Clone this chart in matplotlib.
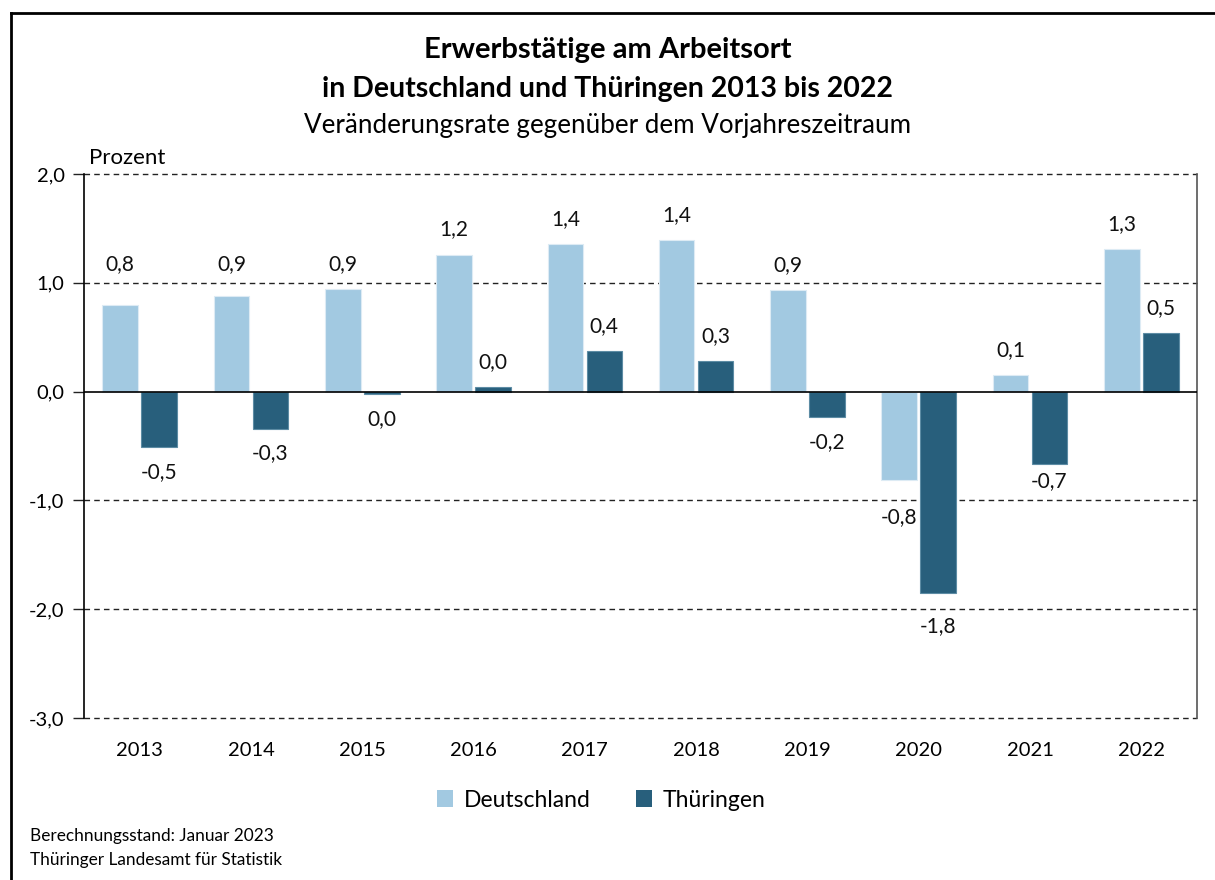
import matplotlib
matplotlib.use("Agg")
import matplotlib.pyplot as plt
import numpy as np
from matplotlib.patches import Patch
from matplotlib.lines import Line2D

plt.rcParams['font.family'] = ['Lato', 'DejaVu Sans']

years = ["2013", "2014", "2015", "2016", "2017", "2018", "2019", "2020", "2021", "2022"]
deutschland = [0.80, 0.88, 0.94, 1.26, 1.36, 1.39, 0.93, -0.81, 0.15, 1.31]
thueringen = [-0.51, -0.34, -0.02, 0.04, 0.37, 0.28, -0.23, -1.85, -0.67, 0.54]
labels_de = ["0,8", "0,9", "0,9", "1,2", "1,4", "1,4", "0,9", "-0,8", "0,1", "1,3"]
labels_th = ["-0,5", "-0,3", "0,0", "0,0", "0,4", "0,3", "-0,2", "-1,8", "-0,7", "0,5"]
yticks = [2.0, 1.0, 0.0, -1.0, -2.0, -3.0]

c_de = "#A2C9E1"
c_th = "#285F7C"

fig = plt.figure(figsize=(12.15, 8.8), dpi=100)
ax = fig.add_axes([84/1215, 1-718/880, (1197-84)/1215, (718-174)/880])

x = np.arange(len(years))
w = 0.32
off = 0.175
b1 = ax.bar(x - off, deutschland, w, color=c_de, edgecolor="#DDEBF4", linewidth=0.8, zorder=3)
b2 = ax.bar(x + off, thueringen, w, color=c_th, edgecolor="#5D8CA4", linewidth=0.8, zorder=3)

ax.set_xlim(-0.5, len(years) - 0.5)
ax.set_ylim(-3.0, 2.0)

# label placement: fixed distance from bar end, nudged away from gridlines
upp = 5.0 / (718 - 174)   # data units per pixel
gap = 25 * upp
grids = [v for v in yticks if v != 0]
for bars, labs in ((b1, labels_de), (b2, labels_th)):
    for r, lab in zip(bars, labs):
        h = r.get_height()
        cx = r.get_x() + r.get_width()/2
        y = h + gap if h >= 0 else h - gap
        for g in grids:
            if abs(y - g) < 13 * upp:
                y = g + 19 * upp if y >= g else g - 17 * upp
        ax.text(cx, y, lab, ha="center", va="center", fontsize=15, color="#111111")

ax.set_yticks(yticks)
ax.set_yticklabels([f"{v:.1f}".replace(".", ",") for v in yticks], fontsize=14.5)
ax.set_xticks(x)
ax.set_xticklabels(years, fontsize=14.5)
ax.tick_params(axis="x", length=0, pad=17)
ax.tick_params(axis="y", length=8, width=1, direction="out", pad=6, color="#222222")

for v in grids:
    ax.axhline(v, color="#222222", linestyle=(0, (4, 3)), linewidth=1, zorder=1, clip_on=False)
ax.axhline(0, color="black", linewidth=1.2, zorder=4)

ax.spines["top"].set_visible(False)
ax.spines["bottom"].set_visible(False)
ax.spines["left"].set_color("black")
ax.spines["left"].set_linewidth(1.2)
ax.spines["right"].set_color("#555555")
ax.spines["right"].set_linewidth(1.2)

fig.text(0.5, 1-50/880, "Erwerbstätige am Arbeitsort", ha="center", va="center",
         fontsize=21, fontweight="bold")
fig.text(0.5, 1-89/880, "in Deutschland und Thüringen 2013 bis 2022", ha="center", va="center",
         fontsize=20.5, fontweight="bold")
fig.text(0.5, 1-125/880, "Veränderungsrate gegenüber dem Vorjahreszeitraum", ha="center", va="center",
         fontsize=18.7)
fig.text(89/1215, 1-158/880, "Prozent", ha="left", va="center", fontsize=16)

handles = [Patch(facecolor=c_de, edgecolor="none"), Patch(facecolor=c_th, edgecolor="none")]
fig.legend(handles, ["Deutschland", "Thüringen"], loc="center", bbox_to_anchor=(0.495, 1-800/880),
           ncol=2, frameon=False, fontsize=16.5, handlelength=0.7, handleheight=0.7,
           columnspacing=2.0, handletextpad=0.45)

fig.text(30/1215, 1-836/880, "Berechnungsstand: Januar 2023", ha="left", va="center", fontsize=12.4)
fig.text(30/1215, 1-860/880, "Thüringer Landesamt für Statistik", ha="left", va="center", fontsize=12.4)

# frame
fig.add_artist(Line2D([11/1215, 11/1215], [0, 1-13/880], transform=fig.transFigure, color="black", linewidth=2))
fig.add_artist(Line2D([11/1215, 1], [1-13/880, 1-13/880], transform=fig.transFigure, color="black", linewidth=2))

fig.savefig("out.png", dpi=100)
